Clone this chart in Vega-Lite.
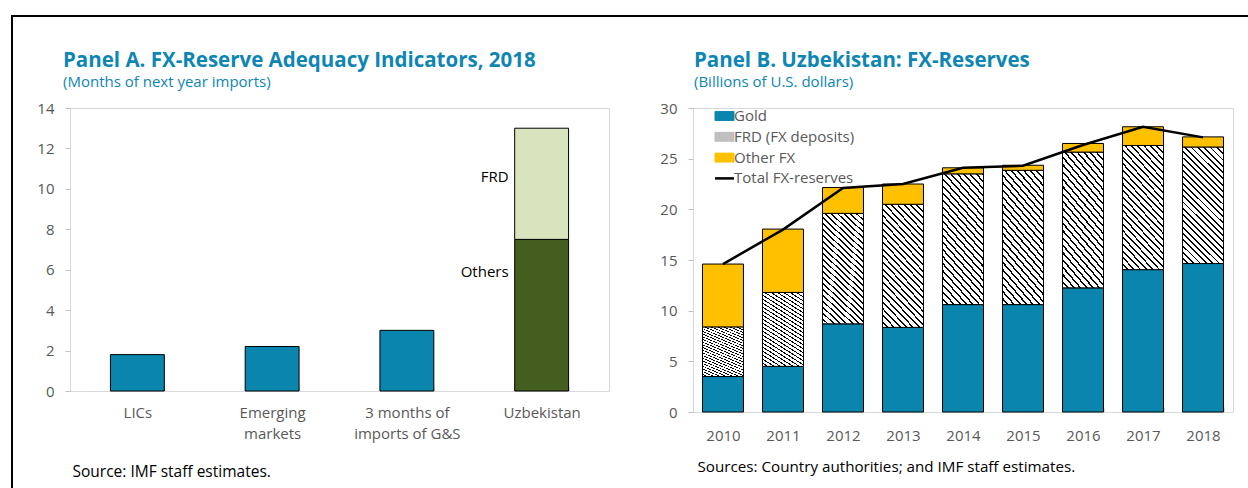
{
  "$schema": "https://vega.github.io/schema/vega-lite/v6.json",
  "padding": {"left": 11, "top": 15, "right": 0, "bottom": 0},
  "background": "white",
  "resolve": {"scale": {"color": "independent"}, "legend": {"color": "independent"}},
  "config": {
    "font": "Open Sans",
    "title": {"fontSize": 20.5, "fontWeight": "bold", "color": "#0E86B4", "subtitleColor": "#0E86B4", "subtitleFontSize": 15, "subtitleFontWeight": "normal", "subtitlePadding": 4, "anchor": "start", "frame": "group", "offset": 11},
    "axis": {"labelFont": "Open Sans", "labelFontSize": 15, "labelColor": "#595959", "tickColor": "#BFBFBF", "domain": false, "grid": false, "titleFont": "Open Sans"}
  },
  "datasets": {
    "panelA": [
      {"cat": "LICs", "part": "Total", "value": 1.8},
      {"cat": "Emerging markets", "part": "Total", "value": 2.2},
      {"cat": "3 months of imports of G&S", "part": "Total", "value": 3.0},
      {"cat": "Uzbekistan", "part": "Others", "value": 7.5},
      {"cat": "Uzbekistan", "part": "FRD", "value": 5.5}
    ],
    "reserves": [
      {"year": "2010", "series": "Gold", "rank": 1, "value": 3.5},
      {"year": "2010", "series": "FRD (FX deposits)", "rank": 2, "value": 4.9},
      {"year": "2010", "series": "Other FX", "rank": 3, "value": 6.2},
      {"year": "2011", "series": "Gold", "rank": 1, "value": 4.5},
      {"year": "2011", "series": "FRD (FX deposits)", "rank": 2, "value": 7.3},
      {"year": "2011", "series": "Other FX", "rank": 3, "value": 6.25},
      {"year": "2012", "series": "Gold", "rank": 1, "value": 8.7},
      {"year": "2012", "series": "FRD (FX deposits)", "rank": 2, "value": 10.9},
      {"year": "2012", "series": "Other FX", "rank": 3, "value": 2.55},
      {"year": "2013", "series": "Gold", "rank": 1, "value": 8.35},
      {"year": "2013", "series": "FRD (FX deposits)", "rank": 2, "value": 12.15},
      {"year": "2013", "series": "Other FX", "rank": 3, "value": 2.0},
      {"year": "2014", "series": "Gold", "rank": 1, "value": 10.6},
      {"year": "2014", "series": "FRD (FX deposits)", "rank": 2, "value": 12.9},
      {"year": "2014", "series": "Other FX", "rank": 3, "value": 0.6},
      {"year": "2015", "series": "Gold", "rank": 1, "value": 10.6},
      {"year": "2015", "series": "FRD (FX deposits)", "rank": 2, "value": 13.25},
      {"year": "2015", "series": "Other FX", "rank": 3, "value": 0.5},
      {"year": "2016", "series": "Gold", "rank": 1, "value": 12.25},
      {"year": "2016", "series": "FRD (FX deposits)", "rank": 2, "value": 13.4},
      {"year": "2016", "series": "Other FX", "rank": 3, "value": 0.85},
      {"year": "2017", "series": "Gold", "rank": 1, "value": 14.05},
      {"year": "2017", "series": "FRD (FX deposits)", "rank": 2, "value": 12.25},
      {"year": "2017", "series": "Other FX", "rank": 3, "value": 1.85},
      {"year": "2018", "series": "Gold", "rank": 1, "value": 14.65},
      {"year": "2018", "series": "FRD (FX deposits)", "rank": 2, "value": 11.5},
      {"year": "2018", "series": "Other FX", "rank": 3, "value": 1.0}
    ],
    "totals": [
      {"year": "2010", "total": 14.6},
      {"year": "2011", "total": 18.0},
      {"year": "2012", "total": 22.1},
      {"year": "2013", "total": 22.5},
      {"year": "2014", "total": 24.1},
      {"year": "2015", "total": 24.3},
      {"year": "2016", "total": 26.35},
      {"year": "2017", "total": 28.15},
      {"year": "2018", "total": 27.1}
    ],
    "empty": []
  },
  "bounds": "flush",
  "spacing": 0,
  "hconcat": [
    {
      "width": 0.01, "height": 473,
      "view": {"stroke": "black", "strokeWidth": 2},
      "data": {"name": "empty"},
      "mark": "point",
      "encoding": {}
    },
    {
      "bounds": "flush",
      "spacing": 91,
      "vconcat": [
        {
          "width": 1237, "height": 0.01,
          "view": {"stroke": "black", "strokeWidth": 2},
          "data": {"name": "empty"},
          "mark": "point",
          "encoding": {}
        },
        {
          "bounds": "flush",
          "spacing": 56,
          "hconcat": [
            {
              "width": 0.01, "height": 0.01,
              "view": {"stroke": null},
              "data": {"name": "empty"},
              "mark": "point",
              "encoding": {}
            },
            {
              "bounds": "flush",
              "spacing": 84,
              "resolve": {"scale": {"color": "independent"}, "legend": {"color": "independent"}},
              "hconcat": [
                {
                  "width": 539, "height": 283,
                  "view": {"stroke": "#D9D9D9", "strokeWidth": 1},
                  "title": {"text": "Panel A. FX-Reserve Adequacy Indicators, 2018", "subtitle": "(Months of next year imports)", "dx": -7},
                  "data": {"name": "panelA"},
                  "layer": [
                    {
                      "mark": {"type": "bar", "stroke": "black", "strokeWidth": 1},
                      "encoding": {
                        "x": {"field": "cat", "type": "nominal", "sort": ["LICs", "Emerging markets", "3 months of imports of G&S", "Uzbekistan"],
                          "scale": {"paddingInner": 0.6, "paddingOuter": 0.3},
                          "axis": {"labelAngle": 0, "tickBand": "extent", "tickSize": -5, "tickColor": "#D9D9D9", "labelPadding": 19, "labelLineHeight": 21, "labelBaseline": "top",
                            "labelExpr": "datum.value == 'Emerging markets' ? ['Emerging', 'markets'] : datum.value == '3 months of imports of G&S' ? ['3 months of', 'imports of G&S'] : datum.label",
                            "title": "Source: IMF staff estimates.", "titleAnchor": "start", "titleAlign": "left", "titleX": 2, "titleY": 80, "titleBaseline": "middle", "titleColor": "black", "titleFontWeight": "normal", "titleFontSize": 15.5}},
                        "y": {"field": "value", "type": "quantitative", "stack": "zero",
                          "scale": {"domain": [0, 14], "nice": false},
                          "axis": {"values": [0, 2, 4, 6, 8, 10, 12, 14], "tickSize": 5, "labelPadding": 11, "title": null}},
                        "color": {"field": "part", "type": "nominal",
                          "scale": {"domain": ["Total", "Others", "FRD"], "range": ["#0A86AE", "#445E1E", "#D7E4BD"]}, "legend": null},
                        "order": {"field": "value", "sort": "descending"}
                      }
                    },
                    {
                      "transform": [{"filter": "datum.part === 'FRD'"}],
                      "mark": {"type": "text", "align": "right", "baseline": "middle", "dx": -33, "fontSize": 15, "fill": "black", "fontWeight": "normal"},
                      "encoding": {"x": {"datum": "Uzbekistan"}, "y": {"datum": 10.6}, "text": {"field": "part"}}
                    },
                    {
                      "transform": [{"filter": "datum.part === 'Others'"}],
                      "mark": {"type": "text", "align": "right", "baseline": "middle", "dx": -33, "fontSize": 15, "fill": "black", "fontWeight": "normal"},
                      "encoding": {"x": {"datum": "Uzbekistan"}, "y": {"datum": 5.9}, "text": {"field": "part"}}
                    }
                  ]
                },
                {
                  "width": 540, "height": 304,
                  "view": {"stroke": "#D9D9D9", "strokeWidth": 1},
                  "title": {"text": "Panel B. Uzbekistan: FX-Reserves", "subtitle": "(Billions of U.S. dollars)", "dx": 1},
                  "layer": [
                    {
                      "data": {"name": "reserves"},
                      "mark": {"type": "bar", "stroke": "black", "strokeWidth": 1},
                      "encoding": {
                        "x": {"field": "year", "type": "nominal",
                          "scale": {"paddingInner": 0.317, "paddingOuter": 0.158},
                          "axis": {"labelAngle": 0, "tickBand": "extent", "tickSize": -5, "tickColor": "#D9D9D9", "labelPadding": 21, "labelBaseline": "top",
                            "title": "Sources: Country authorities; and IMF staff estimates.", "titleAnchor": "start", "titleAlign": "left", "titleX": 4, "titleY": 54, "titleBaseline": "middle", "titleColor": "black", "titleFontWeight": "normal", "titleFontSize": 15.2}},
                        "y": {"field": "value", "type": "quantitative", "stack": "zero",
                          "scale": {"domain": [0, 30], "nice": false},
                          "axis": {"values": [0, 5, 10, 15, 20, 25, 30], "tickSize": 5, "labelPadding": 11, "title": null}},
                        "order": {"field": "rank", "type": "quantitative", "sort": "ascending"},
                        "color": {
                          "condition": {"test": "datum.series === 'FRD (FX deposits)'", "value":
                              {"gradient": "linear", "x1": 0, "y1": 1, "x2": 0.421, "y2": -0.203, "stops": [
                                {"offset": 0, "color": "white"}, {"offset": 0.028, "color": "white"}, {"offset": 0.028, "color": "black"}, {"offset": 0.04, "color": "black"},
                                {"offset": 0.04, "color": "white"}, {"offset": 0.068, "color": "white"}, {"offset": 0.068, "color": "black"}, {"offset": 0.08, "color": "black"},
                                {"offset": 0.08, "color": "white"}, {"offset": 0.108, "color": "white"}, {"offset": 0.108, "color": "black"}, {"offset": 0.12, "color": "black"},
                                {"offset": 0.12, "color": "white"}, {"offset": 0.148, "color": "white"}, {"offset": 0.148, "color": "black"}, {"offset": 0.16, "color": "black"},
                                {"offset": 0.16, "color": "white"}, {"offset": 0.188, "color": "white"}, {"offset": 0.188, "color": "black"}, {"offset": 0.2, "color": "black"},
                                {"offset": 0.2, "color": "white"}, {"offset": 0.228, "color": "white"}, {"offset": 0.228, "color": "black"}, {"offset": 0.24, "color": "black"},
                                {"offset": 0.24, "color": "white"}, {"offset": 0.268, "color": "white"}, {"offset": 0.268, "color": "black"}, {"offset": 0.28, "color": "black"},
                                {"offset": 0.28, "color": "white"}, {"offset": 0.308, "color": "white"}, {"offset": 0.308, "color": "black"}, {"offset": 0.32, "color": "black"},
                                {"offset": 0.32, "color": "white"}, {"offset": 0.348, "color": "white"}, {"offset": 0.348, "color": "black"}, {"offset": 0.36, "color": "black"},
                                {"offset": 0.36, "color": "white"}, {"offset": 0.388, "color": "white"}, {"offset": 0.388, "color": "black"}, {"offset": 0.4, "color": "black"},
                                {"offset": 0.4, "color": "white"}, {"offset": 0.428, "color": "white"}, {"offset": 0.428, "color": "black"}, {"offset": 0.44, "color": "black"},
                                {"offset": 0.44, "color": "white"}, {"offset": 0.468, "color": "white"}, {"offset": 0.468, "color": "black"}, {"offset": 0.48, "color": "black"},
                                {"offset": 0.48, "color": "white"}, {"offset": 0.508, "color": "white"}, {"offset": 0.508, "color": "black"}, {"offset": 0.52, "color": "black"},
                                {"offset": 0.52, "color": "white"}, {"offset": 0.548, "color": "white"}, {"offset": 0.548, "color": "black"}, {"offset": 0.56, "color": "black"},
                                {"offset": 0.56, "color": "white"}, {"offset": 0.588, "color": "white"}, {"offset": 0.588, "color": "black"}, {"offset": 0.6, "color": "black"},
                                {"offset": 0.6, "color": "white"}, {"offset": 0.628, "color": "white"}, {"offset": 0.628, "color": "black"}, {"offset": 0.64, "color": "black"},
                                {"offset": 0.64, "color": "white"}, {"offset": 0.668, "color": "white"}, {"offset": 0.668, "color": "black"}, {"offset": 0.68, "color": "black"},
                                {"offset": 0.68, "color": "white"}, {"offset": 0.708, "color": "white"}, {"offset": 0.708, "color": "black"}, {"offset": 0.72, "color": "black"},
                                {"offset": 0.72, "color": "white"}, {"offset": 0.748, "color": "white"}, {"offset": 0.748, "color": "black"}, {"offset": 0.76, "color": "black"},
                                {"offset": 0.76, "color": "white"}, {"offset": 0.788, "color": "white"}, {"offset": 0.788, "color": "black"}, {"offset": 0.8, "color": "black"},
                                {"offset": 0.8, "color": "white"}, {"offset": 0.828, "color": "white"}, {"offset": 0.828, "color": "black"}, {"offset": 0.84, "color": "black"},
                                {"offset": 0.84, "color": "white"}, {"offset": 0.868, "color": "white"}, {"offset": 0.868, "color": "black"}, {"offset": 0.88, "color": "black"},
                                {"offset": 0.88, "color": "white"}, {"offset": 0.908, "color": "white"}, {"offset": 0.908, "color": "black"}, {"offset": 0.92, "color": "black"},
                                {"offset": 0.92, "color": "white"}, {"offset": 0.948, "color": "white"}, {"offset": 0.948, "color": "black"}, {"offset": 0.96, "color": "black"},
                                {"offset": 0.96, "color": "white"}, {"offset": 0.988, "color": "white"}, {"offset": 0.988, "color": "black"}, {"offset": 1, "color": "black"}
                              ]}},
                          "field": "series", "type": "nominal",
                          "scale": {"domain": ["Gold", "FRD (FX deposits)", "Other FX", "Total FX-reserves"], "range": ["#0A86AE", "#BFBFBF", "#FFC000", "black"]},
                          "legend": {"title": null, "orient": "none", "legendX": 24, "legendY": 0.5, "labelFontSize": 15, "labelColor": "#595959", "labelOffset": 2, "rowPadding": 4.8, "symbolSize": 361, "symbolStrokeColor": "black", "symbolStrokeWidth": 1,
                            "symbolType": "M-1,-0.47H1V0.47H-1Z",
                            "encode": {"symbols": {"update": {
                              "shape": {"signal": "datum.value === 'Total FX-reserves' ? 'M-1,0H1' : 'M-1,-0.47H1V0.47H-1Z'"},
                              "stroke": {"value": "black"},
                              "strokeWidth": {"signal": "datum.value === 'Total FX-reserves' ? 2.5 : 1"},
                              "opacity": {"value": 1}
                            }}}}
                        }
                      }
                    },
                    {
                      "data": {"name": "totals"},
                      "mark": {"type": "line", "strokeWidth": 2.5},
                      "encoding": {
                        "x": {"field": "year", "type": "nominal"},
                        "y": {"field": "total", "type": "quantitative"},
                        "color": {"datum": "Total FX-reserves"}
                      }
                    }
                  ]
                }
              ]
            }
          ]
        }
      ]
    }
  ]
}
